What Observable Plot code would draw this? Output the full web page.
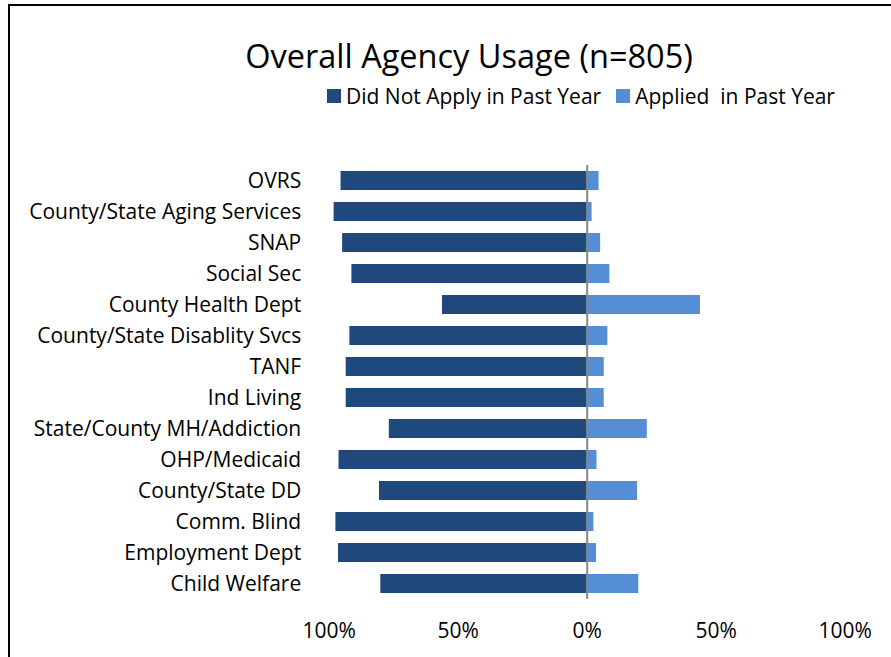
<!DOCTYPE html>
<html>
<head>
<meta charset="utf-8">
<script src="https://cdn.jsdelivr.net/npm/d3@7"></script>
<script src="https://cdn.jsdelivr.net/npm/@observablehq/plot@0.6"></script>
<style>
  html, body { margin: 0; padding: 0; background: #fff; }
  body { width: 891px; height: 657px; overflow: hidden; position: relative; font-family: "Open Sans", "Noto Sans", sans-serif; color: #000; }
  #frame { position: absolute; left: 8px; top: 4px; width: 1000px; height: 1000px; border-left: 2px solid #000; border-top: 2px solid #000; }
  #title { position: absolute; left: 0; width: 938px; top: 36px; text-align: center; font-size: 32.5px; line-height: 40px; }
  #legend { position: absolute; left: 327px; top: 83px; font-size: 21px; line-height: 26px; display: flex; align-items: center; white-space: pre; }
  .sw { display: inline-block; width: 14px; height: 14px; margin-right: 5px; }
  .gap { display: inline-block; width: 15px; }
  #chart { position: absolute; left: 0; top: 150px; }
</style>
</head>
<body>
<div id="frame"></div>
<div id="title">Overall Agency Usage (n=805)</div>
<div id="legend"><span class="sw" style="background:#1F497D"></span>Did Not Apply in Past Year<span class="gap"></span><span class="sw" style="background:#558ED5"></span>Applied  in Past Year</div>
<div id="chart"></div>
<script>
const agencies = ["OVRS", "County/State Aging Services", "SNAP", "Social Sec", "County Health Dept",
  "County/State Disablity Svcs", "TANF", "Ind Living", "State/County MH/Addiction", "OHP/Medicaid",
  "County/State DD", "Comm. Blind", "Employment Dept", "Child Welfare"];
const didNotApply = [95.4, 98.1, 94.8, 91.2, 56.1, 92.0, 93.4, 93.4, 76.7, 96.2, 80.5, 97.4, 96.4, 80.0];
const applied =     [4.6, 1.9, 5.2, 8.8, 43.9, 8.0, 6.6, 6.6, 23.3, 3.8, 19.5, 2.6, 3.6, 20.0];
const xTicks = [-100, -50, 0, 50, 100];

const rows = agencies.map((a, i) => ({agency: a, didNot: didNotApply[i], applied: applied[i]}));

const chart = Plot.plot({
  width: 891,
  height: 507,
  marginLeft: 328.7,
  marginRight: 46.3,
  marginTop: 15,
  marginBottom: 58,
  style: {fontFamily: "'Open Sans', 'Noto Sans', sans-serif", fontSize: "21px", color: "#000", background: "transparent"},
  x: {domain: [-100, 100], ticks: xTicks, tickFormat: d => Math.abs(d) + "%", tickSize: 0, tickPadding: 24, label: null},
  y: {domain: agencies, paddingInner: 0.4, paddingOuter: 0.2, tickSize: 0, tickPadding: 28, label: null},
  marks: [
    Plot.barX(rows, {y: "agency", x1: d => -d.didNot, x2: 0, fill: "#1F497D"}),
    Plot.barX(rows, {y: "agency", x1: 0, x2: "applied", fill: "#558ED5"}),
    Plot.ruleX([0], {stroke: "#868686", strokeWidth: 2})
  ]
});
document.getElementById("chart").appendChild(chart);
</script>
</body>
</html>
